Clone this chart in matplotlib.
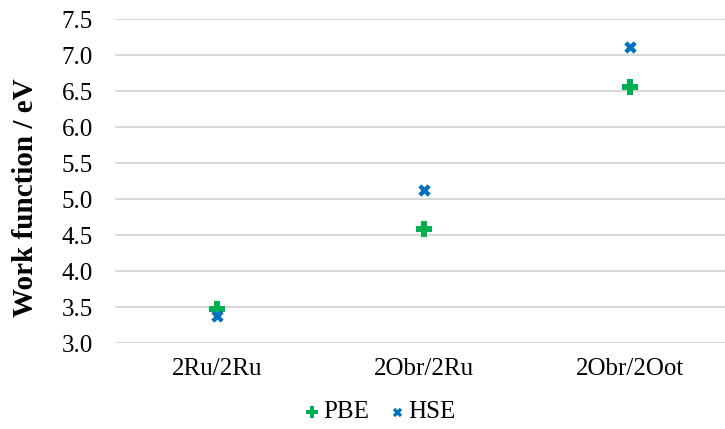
import matplotlib as mpl
mpl.use("Agg")
import matplotlib.pyplot as plt

# data
categories = ["2Ru/2Ru", "2Obr/2Ru", "2Obr/2Oot"]
pbe = [3.47, 4.58, 6.56]
hse = [3.38, 5.12, 7.11]
yticks = [3.0, 3.5, 4.0, 4.5, 5.0, 5.5, 6.0, 6.5, 7.0, 7.5]

plt.rcParams["font.family"] = ["Liberation Serif", "DejaVu Serif"]

fig = plt.figure(figsize=(7.25, 4.29), dpi=100)
ax = fig.add_axes([115 / 725, 1 - 343 / 429, 1 - 115 / 725, (343 - 19) / 429])

x = list(range(len(categories)))
ax.scatter(x, pbe, marker="P", s=140, color="#00B050", linewidths=0,
           label="PBE", zorder=3)
ax.scatter(x, hse, marker="X", s=80, color="#0070C0", linewidths=0,
           label="HSE", zorder=3)

ax.set_xlim(-0.495, 2.459)
ax.set_ylim(3.0, 7.5)
ax.set_yticks(yticks)
ax.set_yticklabels([f"{v:.1f}" for v in yticks], fontsize=18)
ax.set_xticks(x)
ax.set_xticklabels(categories, fontsize=18)
ax.tick_params(axis="both", length=0, colors="#000000")
ax.tick_params(axis="y", pad=16)
ax.tick_params(axis="x", pad=11)

ax.grid(axis="y", color="#D9D9D9", linewidth=1.5)
ax.set_axisbelow(True)
for s in ax.spines.values():
    s.set_visible(False)

ax.set_ylabel("Work function / eV", fontsize=21, fontweight="bold")
ax.yaxis.set_label_coords(-0.124, 0.45)

fig.legend(loc="center", bbox_to_anchor=(379 / 725, 1 - 412 / 429), ncol=2,
           frameon=False, fontsize=18, handletextpad=0.05, columnspacing=0.7,
           markerscale=0.75, handlelength=0.8, borderpad=0)

fig.savefig("out.png", dpi=100)
